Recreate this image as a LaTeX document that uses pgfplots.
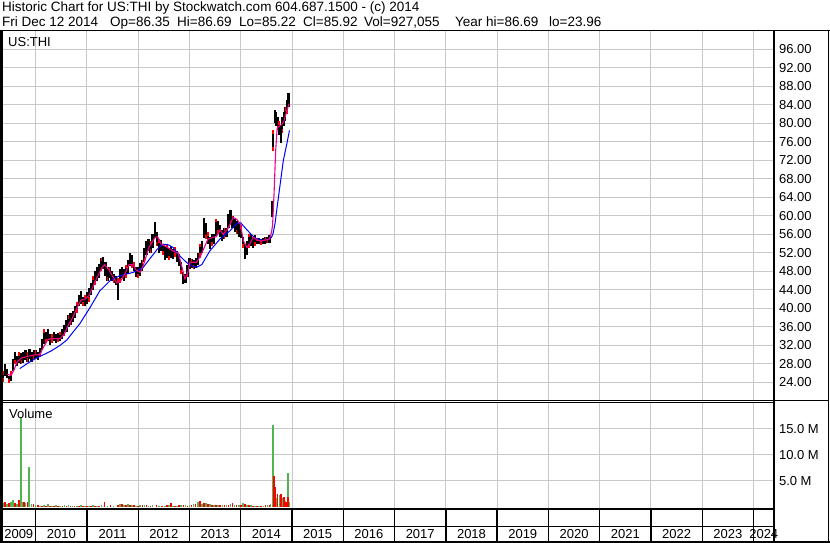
\documentclass[border=0pt]{standalone}
\usepackage{pgfplots}
\pgfplotsset{compat=1.18}
\usepackage{pgfplotstable}
\usepackage{fontspec}
\setmainfont{Liberation Sans}
\definecolor{gridgray}{RGB}{200,200,200}
\definecolor{volgreen}{RGB}{80,180,80}

\pgfplotstableread{
x lo hi
2009.36 24.0 26.5
2009.40 25.5 28.0
2009.44 25.0 27.0
2009.48 23.96 25.5
2009.52 24.3 26.5
2009.56 26.5 29.0
2009.60 28.0 30.5
2009.64 27.5 29.8
2009.68 28.3 30.5
2009.72 28.0 30.3
2009.76 28.3 30.5
2009.80 28.8 31.0
2009.84 28.5 30.5
2009.88 29.0 31.2
2009.92 28.5 30.5
2009.96 29.0 31.0
2010.00 29.3 31.0
2010.04 28.8 30.5
2010.08 29.5 31.5
2010.12 31.0 33.5
2010.16 32.4 35.6
2010.20 32.5 35.0
2010.24 33.0 35.5
2010.28 32.0 34.5
2010.32 32.5 34.5
2010.36 33.0 35.0
2010.40 32.5 34.5
2010.44 32.8 34.8
2010.48 33.0 35.0
2010.52 33.5 35.5
2010.56 34.0 36.5
2010.60 35.0 37.5
2010.64 36.0 38.5
2010.68 36.5 39.0
2010.72 37.0 39.5
2010.76 38.0 40.5
2010.80 39.0 41.5
2010.84 40.5 43.0
2010.88 41.0 43.8
2010.92 40.5 42.5
2010.96 40.5 43.0
2011.00 41.0 43.5
2011.04 41.5 44.5
2011.08 43.0 45.5
2011.12 44.0 47.0
2011.16 45.0 48.0
2011.20 46.0 49.0
2011.24 46.5 49.7
2011.28 48.0 51.0
2011.32 48.5 51.2
2011.36 47.0 50.0
2011.40 46.0 48.5
2011.44 46.5 49.0
2011.48 46.0 48.0
2011.52 45.5 47.5
2011.56 45.0 47.0
2011.60 41.8 46.5
2011.64 45.5 48.5
2011.68 46.5 49.0
2011.72 46.0 48.5
2011.76 46.5 49.5
2011.80 47.5 50.5
2011.84 49.2 52.0
2011.88 48.8 51.5
2011.92 48.0 50.0
2011.96 46.8 49.0
2012.00 46.6 49.0
2012.04 47.0 49.9
2012.08 48.0 50.5
2012.12 50.0 53.0
2012.16 51.5 54.7
2012.20 52.5 55.0
2012.24 52.0 54.5
2012.28 53.0 56.0
2012.32 55.3 58.6
2012.36 53.5 56.5
2012.40 52.0 55.0
2012.44 52.5 54.8
2012.48 51.5 54.0
2012.52 50.5 53.5
2012.56 51.0 54.0
2012.60 50.4 53.0
2012.64 51.0 53.5
2012.68 50.8 52.8
2012.72 51.2 53.2
2012.76 50.0 52.5
2012.80 49.2 51.8
2012.84 47.5 50.0
2012.88 45.3 47.8
2012.92 45.5 47.5
2012.96 46.8 49.5
2013.00 48.6 51.0
2013.04 48.8 50.8
2013.08 48.6 50.5
2013.12 48.8 51.0
2013.16 49.5 52.0
2013.20 51.0 54.0
2013.24 52.0 54.7
2013.28 55.3 59.6
2013.32 55.0 58.5
2013.36 54.0 56.5
2013.40 52.9 55.5
2013.44 53.5 56.2
2013.48 54.0 56.0
2013.52 55.7 59.4
2013.56 56.0 59.0
2013.60 55.5 58.0
2013.64 54.7 57.0
2013.68 55.0 57.5
2013.72 55.5 57.5
2013.76 57.5 60.5
2013.80 58.0 61.2
2013.84 57.5 60.0
2013.88 56.5 59.4
2013.92 56.0 59.0
2013.96 55.5 58.5
2014.00 55.3 58.0
2014.04 53.0 55.5
2014.08 50.8 54.0
2014.12 51.5 54.5
2014.16 53.0 56.2
2014.20 53.5 56.0
2014.24 53.0 55.5
2014.28 53.5 55.8
2014.32 54.0 55.3
2014.36 54.0 55.3
2014.40 53.8 55.0
2014.44 54.0 55.3
2014.48 54.0 55.5
2014.52 54.2 55.5
2014.56 54.2 55.8
2014.61 59.7 63.3
2014.63 74.0 78.5
2014.66 80.0 83.0
2014.69 79.5 82.5
2014.72 78.5 81.5
2014.75 77.5 80.5
2014.78 75.8 79.5
2014.81 78.0 81.5
2014.84 79.5 82.5
2014.87 80.5 83.5
2014.90 82.0 85.0
2014.93 83.5 86.69
}\pricedata

\pgfplotstableread{
x v
2009.36 0.7
2009.44 0.5
2009.52 0.9
2009.56 1.4
2009.64 0.6
2009.71 17.4
2009.74 1.0
2009.80 0.7
2009.87 7.6
2009.92 0.6
2010.00 0.3
2010.08 0.2
2010.16 0.3
2010.24 0.6
2010.32 0.2
2010.40 0.3
2010.48 0.2
2010.56 0.3
2010.64 0.4
2010.72 0.2
2010.80 0.2
2010.88 0.3
2010.96 0.2
2011.04 0.2
2011.12 0.3
2011.20 0.2
2011.28 0.3
2011.40 0.2
2011.52 0.2
2011.64 0.5
2011.72 0.4
2011.80 0.5
2011.88 0.3
2011.96 0.2
2012.04 0.3
2012.12 0.4
2012.20 0.2
2012.28 0.3
2012.40 0.2
2012.52 0.2
2012.60 0.3
2012.68 0.2
2012.76 0.2
2012.84 0.3
2012.92 0.4
2013.00 0.3
2013.08 0.6
2013.16 0.9
2013.24 0.6
2013.32 0.7
2013.40 0.5
2013.48 0.4
2013.56 0.4
2013.64 0.3
2013.72 0.3
2013.80 0.6
2013.88 0.3
2013.96 0.3
2014.04 0.8
2014.12 0.4
2014.20 0.3
2014.28 0.2
2014.36 0.2
2014.44 0.2
2014.52 0.3
2014.58 0.5
2014.63 15.8
2014.66 2.0
2014.70 1.8
2014.76 2.2
2014.82 1.8
2014.86 1.2
2014.92 6.6
2014.95 1.0
}\volG

\pgfplotstableread{
x v
2009.40 0.9
2009.48 0.7
2009.60 0.8
2009.68 1.4
2009.77 0.9
2009.84 1.0
2009.96 0.5
2010.04 0.3
2010.12 0.2
2010.20 0.2
2010.28 0.2
2010.36 0.2
2010.44 0.1
2010.52 0.2
2010.60 0.2
2010.68 0.1
2010.76 0.2
2010.84 0.2
2010.92 0.1
2011.00 0.2
2011.08 0.2
2011.16 0.2
2011.24 0.2
2011.34 0.9
2011.46 0.3
2011.60 0.4
2011.68 0.5
2011.76 0.3
2011.84 0.4
2011.92 0.3
2012.00 0.2
2012.08 0.3
2012.16 0.3
2012.24 0.2
2012.36 0.4
2012.46 0.2
2012.56 0.3
2012.64 0.7
2012.72 0.2
2012.80 0.3
2012.88 0.3
2012.96 0.2
2013.04 0.3
2013.12 0.5
2013.20 1.2
2013.28 0.7
2013.36 0.5
2013.44 0.4
2013.52 0.3
2013.60 0.4
2013.68 0.3
2013.76 0.3
2013.84 0.7
2013.92 0.4
2014.00 0.3
2014.08 0.5
2014.16 0.3
2014.24 0.2
2014.32 0.2
2014.40 0.2
2014.48 0.3
2014.56 0.3
2014.645 6.0
2014.68 3.9
2014.72 2.4
2014.78 2.4
2014.84 2.0
2014.88 1.0
2014.925 2.0
}\volR

\begin{document}
\fontsize{13}{15}\selectfont
\begin{tikzpicture}[x=1pt,y=1pt]
\path[use as bounding box] (0,0) rectangle (830,543);
\pgfplotsset{
  chartbase/.style={
    scale only axis, width=772pt, anchor=south west,
    xmin=2009.343, xmax=2024.40,
    xtick={2010,2011,...,2024}, xticklabels={},
    major tick length=0pt, minor tick length=0pt,
    grid=major, grid style={gridgray, line width=1pt},
    axis line style={line width=1pt},
    tick label style={font=\fontsize{13}{15}\selectfont},
    /pgf/number format/assume math mode=true,
    yticklabel pos=right,
    yticklabel style={anchor=west, xshift=0.5pt},
  }
}
% ---- price panel
\begin{axis}[chartbase, at={(2pt,142pt)}, height=370pt, ymin=20, ymax=100,
  ytick={24,28,...,96},
  yticklabel={\pgfmathprintnumber[fixed,fixed zerofill,precision=2]{\tick}},
]
\addplot[draw=none, mark=none, error bars/.cd, y dir=minus, y explicit, error mark=none,
  error bar style={draw=black, line width=2.2pt}]
  table[x=x, y=hi, y error minus expr={\thisrow{hi}-\thisrow{lo}}] {\pricedata};
\addplot[draw=none, mark=none, each nth point=3, error bars/.cd, y dir=plus, y explicit, error mark=none,
  error bar style={draw=red, line width=1.6pt}]
  table[x=x, y=lo, y error plus expr={0.9}] {\pricedata};
\addplot[draw=none, mark=none, each nth point=4, error bars/.cd, y dir=minus, y explicit, error mark=none,
  error bar style={draw=red, line width=1.6pt}]
  table[x=x, y=hi, y error minus expr={0.8}] {\pricedata};
% long moving average
\addplot[blue, line width=1pt, mark=none] coordinates {
(2009.69,27.0) (2009.85,28.2) (2010.00,29.2) (2010.15,30.0) (2010.30,30.8) (2010.47,32.0)
(2010.61,33.2) (2010.70,34.5) (2010.86,36.7) (2011.06,40.2) (2011.25,43.8) (2011.45,46.0)
(2011.64,47.1) (2011.90,47.8) (2012.09,48.8) (2012.23,50.8) (2012.37,52.8) (2012.48,53.9)
(2012.58,53.8) (2012.68,53.2) (2012.80,51.5) (2012.90,50.4) (2013.00,49.4) (2013.14,48.9)
(2013.24,49.5) (2013.40,52.5) (2013.60,55.1) (2013.79,56.8) (2013.92,58.4) (2014.00,58.5)
(2014.08,57.5) (2014.18,56.3) (2014.28,55.2) (2014.44,54.7) (2014.56,55.0) (2014.60,55.4)
(2014.63,56.2) (2014.67,58.5) (2014.70,61.2) (2014.77,67.0) (2014.83,72.0) (2014.90,75.7)
(2014.95,78.5)};
% short moving average
\addplot[magenta, line width=1.1pt, mark=none] coordinates {
(2009.44,25.8) (2009.52,25.5) (2009.58,26.8) (2009.64,28.5) (2009.72,29.3) (2009.80,29.5)
(2009.90,29.8) (2010.00,30.0) (2010.08,30.0) (2010.16,31.8) (2010.24,33.3) (2010.32,33.5)
(2010.40,33.5) (2010.48,33.5) (2010.56,34.5) (2010.64,36.5) (2010.72,38.0) (2010.80,40.0)
(2010.88,41.8) (2010.96,42.0) (2011.04,42.8) (2011.12,44.8) (2011.20,46.8) (2011.28,48.5)
(2011.34,49.5) (2011.42,48.5) (2011.50,47.0) (2011.58,45.5) (2011.66,46.0) (2011.74,47.5)
(2011.82,49.5) (2011.90,49.5) (2011.96,48.3) (2012.04,47.8) (2012.12,50.0) (2012.20,53.0)
(2012.28,54.5) (2012.33,55.4) (2012.38,55.5) (2012.44,54.0) (2012.52,53.5) (2012.60,53.0)
(2012.70,52.3) (2012.78,52.0) (2012.84,49.5) (2012.91,46.4) (2012.96,47.5) (2013.01,50.0)
(2013.14,50.0) (2013.22,51.5) (2013.30,53.5) (2013.36,55.0) (2013.46,55.4) (2013.52,55.5)
(2013.60,57.0) (2013.66,56.0) (2013.76,57.5) (2013.85,59.7) (2013.92,59.3) (2013.99,58.3)
(2014.05,54.7) (2014.12,53.2) (2014.18,54.0) (2014.24,55.4) (2014.32,54.8) (2014.40,54.6)
(2014.48,54.8) (2014.56,55.0) (2014.60,56.5) (2014.62,58.0) (2014.65,65.0) (2014.68,74.0)
(2014.71,79.0) (2014.76,79.5) (2014.80,79.8) (2014.84,80.5) (2014.88,82.0) (2014.94,84.3)};
\end{axis}
% ---- volume panel
\begin{axis}[chartbase, at={(2pt,34pt)}, height=106pt, ymin=-0.4, ymax=20,
  ytick={5,10,15}, yticklabels={5.0 M,10.0 M,15.0 M}]
\addplot[ycomb, volgreen, line width=1.6pt, mark=none] table[x=x,y=v] {\volG};
\addplot[ycomb, red, line width=1.6pt, mark=none] table[x=x,y=v] {\volR};
\end{axis}
% ---- date strip
\begin{axis}[chartbase, at={(2pt,1pt)}, height=33pt, ymin=0, ymax=2,
  ytick=\empty, grid style={black, line width=1.3pt}, axis line style={line width=1.5pt},
  extra y ticks={0.94}, extra y tick labels={},
  extra y tick style={grid=major, grid style={black, line width=1.3pt}},
  clip=false]
\node[font=\fontsize{13}{15}\selectfont] at (axis cs:2009.67,0.48) {2009};
\node[font=\fontsize{13}{15}\selectfont] at (axis cs:2010.5,0.48) {2010};
\node[font=\fontsize{13}{15}\selectfont] at (axis cs:2011.5,0.48) {2011};
\node[font=\fontsize{13}{15}\selectfont] at (axis cs:2012.5,0.48) {2012};
\node[font=\fontsize{13}{15}\selectfont] at (axis cs:2013.5,0.48) {2013};
\node[font=\fontsize{13}{15}\selectfont] at (axis cs:2014.5,0.48) {2014};
\node[font=\fontsize{13}{15}\selectfont] at (axis cs:2015.5,0.48) {2015};
\node[font=\fontsize{13}{15}\selectfont] at (axis cs:2016.5,0.48) {2016};
\node[font=\fontsize{13}{15}\selectfont] at (axis cs:2017.5,0.48) {2017};
\node[font=\fontsize{13}{15}\selectfont] at (axis cs:2018.5,0.48) {2018};
\node[font=\fontsize{13}{15}\selectfont] at (axis cs:2019.5,0.48) {2019};
\node[font=\fontsize{13}{15}\selectfont] at (axis cs:2020.5,0.48) {2020};
\node[font=\fontsize{13}{15}\selectfont] at (axis cs:2021.5,0.48) {2021};
\node[font=\fontsize{13}{15}\selectfont] at (axis cs:2022.5,0.48) {2022};
\node[font=\fontsize{13}{15}\selectfont] at (axis cs:2023.5,0.48) {2023};
\node[font=\fontsize{13}{15}\selectfont] at (axis cs:2024.2,0.48) {2024};
\end{axis}
% ---- frame
\draw[line width=1.5pt] (0,512.5) -- (830,512.5);
\draw[line width=2.5pt] (1.25,0) -- (1.25,513);
\draw[line width=1pt] (828.5,0) -- (828.5,513);
\draw[line width=1.2pt] (0,1) -- (830,1);
\draw[line width=2pt] (774,0) -- (774,513);
\draw[line width=1pt] (774,142.3) -- (829,142.3);
% ---- texts
\node[anchor=base west, inner sep=0pt, font=\fontsize{13.5}{15}\selectfont] at (2,531.7) {Historic Chart for US:THI by Stockwatch.com 604.687.1500 - (c) 2014};
\node[anchor=base west, inner sep=0pt, font=\fontsize{13.5}{15}\selectfont] at (2,516.3) {Fri Dec 12 2014};
\node[anchor=base west, inner sep=0pt, font=\fontsize{13.5}{15}\selectfont] at (110,516.3) {Op=86.35};
\node[anchor=base west, inner sep=0pt, font=\fontsize{13.5}{15}\selectfont] at (177,516.3) {Hi=86.69};
\node[anchor=base west, inner sep=0pt, font=\fontsize{13.5}{15}\selectfont] at (239,516.3) {Lo=85.22};
\node[anchor=base west, inner sep=0pt, font=\fontsize{13.5}{15}\selectfont] at (303,516.3) {Cl=85.92};
\node[anchor=base west, inner sep=0pt, font=\fontsize{13.5}{15}\selectfont] at (364,516.3) {Vol=927,055};
\node[anchor=base west, inner sep=0pt, font=\fontsize{13.5}{15}\selectfont] at (455,516.3) {Year hi=86.69};
\node[anchor=base west, inner sep=0pt, font=\fontsize{13.5}{15}\selectfont] at (549,516.3) {lo=23.96};
\node[anchor=base west, inner sep=0pt] at (8,496.5) {US:THI};
\node[anchor=base west, inner sep=0pt] at (9,124.7) {Volume};
\end{tikzpicture}
\end{document}
